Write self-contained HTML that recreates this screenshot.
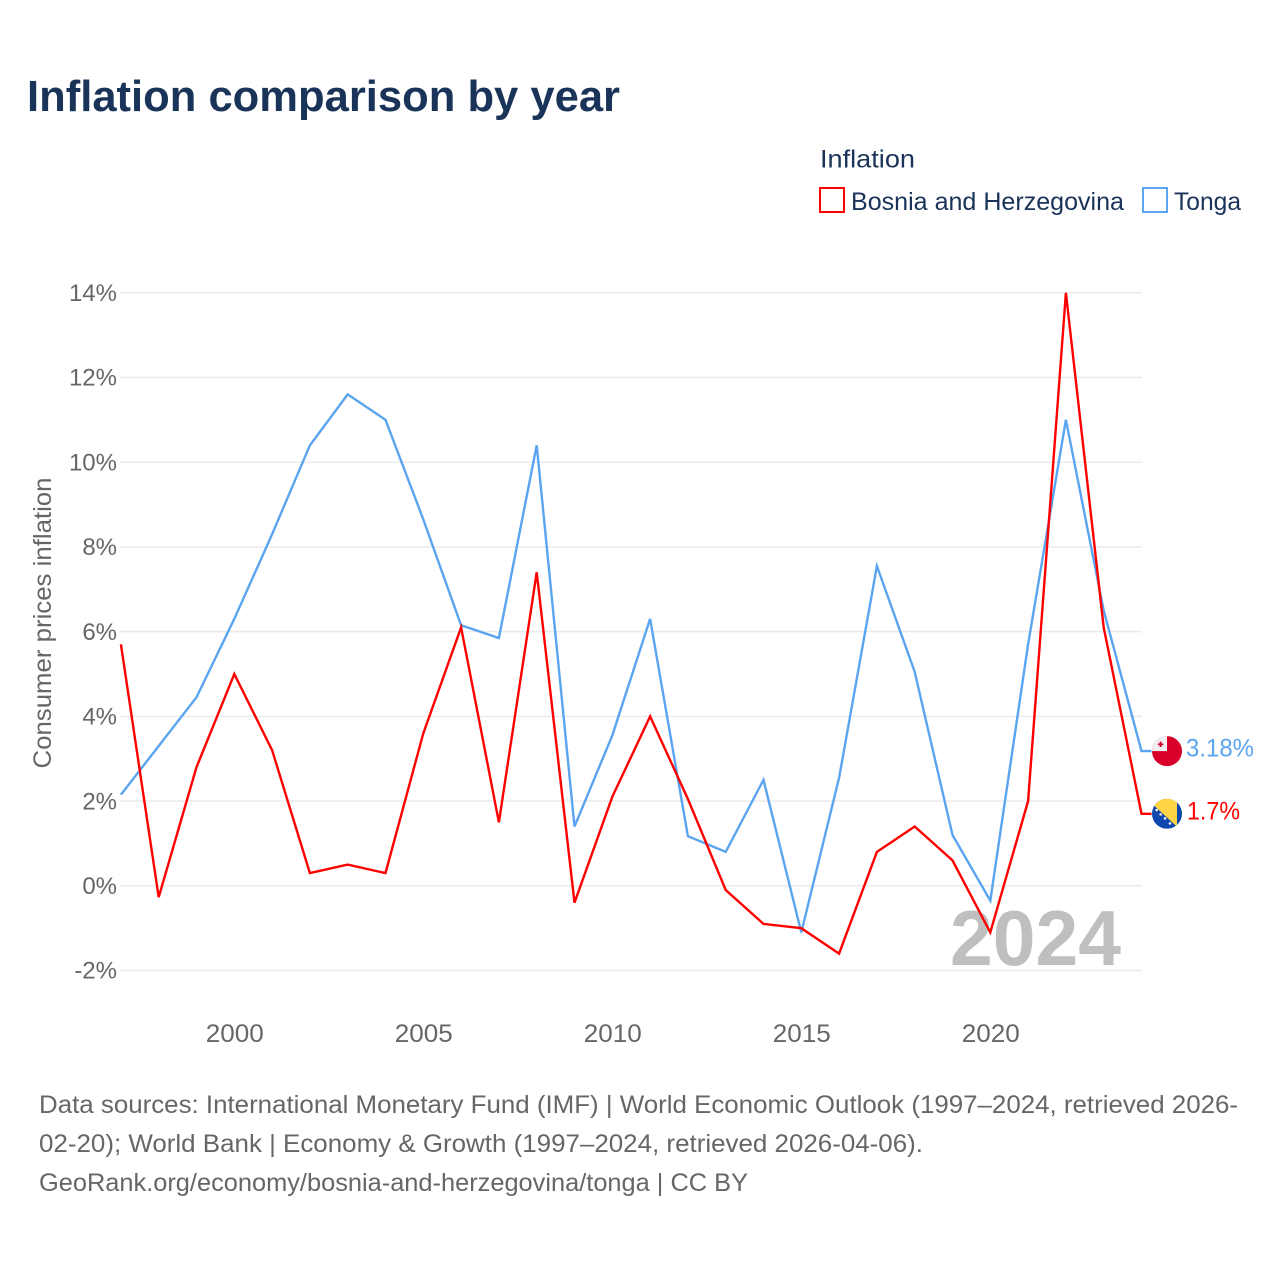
<!DOCTYPE html>
<html lang="en">
<head>
<meta charset="utf-8">
<title>Inflation comparison by year</title>
<style>
html,body{margin:0;padding:0;background:#fff;width:1280px;height:1280px;overflow:hidden}
svg{display:block}
text{font-family:"Liberation Sans",sans-serif}
</style>
</head>
<body>
<svg id="chart" xmlns="http://www.w3.org/2000/svg" width="1280" height="1280" viewBox="0 0 1280 1280">
  <rect x="0" y="0" width="1280" height="1280" fill="#fff"/>
  <text x="27" y="111" font-size="44" font-weight="700" fill="#1a3358" textLength="593" lengthAdjust="spacingAndGlyphs">Inflation comparison by year</text>

  <text x="820" y="167.5" font-size="25" fill="#1a3358" textLength="95" lengthAdjust="spacingAndGlyphs">Inflation</text>
  <g>
    <rect x="820" y="188" width="24" height="24" fill="none" stroke="#ff0000" stroke-width="2"/>
    <text x="851" y="210" font-size="25" fill="#1a3358" textLength="273" lengthAdjust="spacingAndGlyphs">Bosnia and Herzegovina</text>
  </g>
  <g>
    <rect x="1143" y="188" width="24" height="24" fill="none" stroke="#5ba4ef" stroke-width="2"/>
    <text x="1174" y="210" font-size="25" fill="#1a3358" textLength="67" lengthAdjust="spacingAndGlyphs">Tonga</text>
  </g>

  <g id="grid"></g>
  <g id="yticks"></g>
  <g id="xticks"></g>

  <text transform="translate(51,623) rotate(-90)" text-anchor="middle" font-size="25" fill="#666" textLength="291" lengthAdjust="spacingAndGlyphs">Consumer prices inflation</text>

  <text x="950" y="965" font-size="78" font-weight="700" fill="#bfbfbf" textLength="171" lengthAdjust="spacingAndGlyphs">2024</text>

  <g id="series"></g>

  <g id="flag-tonga">
    <clipPath id="clip-to"><circle cx="0" cy="0" r="15"/></clipPath>
    <g clip-path="url(#clip-to)">
      <rect x="-15" y="-15" width="30" height="30" fill="#d8002a"/>
      <rect x="-15" y="-15" width="15" height="15" fill="#f0f0f0"/>
      <rect x="-7.3" y="-9.5" width="1.8" height="5.4" fill="#d8002a"/>
      <rect x="-9.1" y="-7.7" width="5.4" height="1.8" fill="#d8002a"/>
    </g>
  </g>
  <g id="flag-bosnia">
    <clipPath id="clip-ba"><circle cx="0" cy="0" r="15"/></clipPath>
    <g clip-path="url(#clip-ba)">
      <rect x="-15" y="-15" width="30" height="30" fill="#0f47af"/>
      <polygon points="-15,-10 -15,-15 10,-15 10,13" fill="#ffd445"/>
      <g fill="#f4f4f4">
        <circle cx="-10.3" cy="-3.7" r="1.3"/><circle cx="-6.3" cy="0.6" r="1.3"/><circle cx="-2" cy="4.6" r="1.3"/>
        <circle cx="3" cy="9.6" r="1.3"/>
      </g>
    </g>
  </g>
  <text id="value-tonga" font-size="25" fill="#5ba4ef" textLength="68" lengthAdjust="spacingAndGlyphs"></text>
  <text id="value-bosnia" font-size="25" fill="#ff0000" textLength="53" lengthAdjust="spacingAndGlyphs"></text>

  <text font-size="25" fill="#666">
    <tspan x="39" y="1113" textLength="1199" lengthAdjust="spacingAndGlyphs">Data sources: International Monetary Fund (IMF) | World Economic Outlook (1997–2024, retrieved 2026-</tspan>
    <tspan x="39" y="1152" textLength="884" lengthAdjust="spacingAndGlyphs">02-20); World Bank | Economy &amp; Growth (1997–2024, retrieved 2026-04-06).</tspan>
    <tspan x="39" y="1191" textLength="709" lengthAdjust="spacingAndGlyphs">GeoRank.org/economy/bosnia-and-herzegovina/tonga | CC BY</tspan>
  </text>
</svg>
<script>
const years = [1997,1998,1999,2000,2001,2002,2003,2004,2005,2006,2007,2008,2009,2010,2011,2012,2013,2014,2015,2016,2017,2018,2019,2020,2021,2022,2023,2024];
const bosniaValues = [5.7,-0.27,2.8,5.0,3.2,0.3,0.5,0.3,3.6,6.1,1.5,7.4,-0.4,2.1,4.0,2.05,-0.1,-0.9,-1.0,-1.6,0.8,1.4,0.6,-1.1,2.0,14.0,6.1,1.7];
const tongaValues = [2.15,3.3,4.45,6.3,8.3,10.4,11.6,11.0,8.65,6.15,5.85,10.4,1.4,3.55,6.3,1.17,0.8,2.5,-1.1,2.55,7.55,5.05,1.2,-0.35,5.7,11.0,6.5,3.18];
const yTickValues = [-2,0,2,4,6,8,10,12,14];
const xTickValues = [2000,2005,2010,2015,2020];
const bosniaEndLabel = "1.7%";
const tongaEndLabel = "3.18%";

const NS = "http://www.w3.org/2000/svg";
function xScale(year){ return 120.9 + (year - 1997) * 37.8; }
function yScale(v){ return 885.8 - v * 42.36; }

function make(tag, attrs, parent){
  const el = document.createElementNS(NS, tag);
  for (const k in attrs) el.setAttribute(k, attrs[k]);
  parent.appendChild(el);
  return el;
}

const grid = document.getElementById('grid');
const yticks = document.getElementById('yticks');
const xticks = document.getElementById('xticks');
const series = document.getElementById('series');

yTickValues.forEach(function(v){
  const line = make('line', {x1:120, x2:1142, y1:yScale(v), y2:yScale(v), stroke:'#ebebeb', 'stroke-width':1.5}, grid);
  
  
  const t = make('text', {x:117, y:yScale(v)+8.2, 'text-anchor':'end', 'font-size':24, fill:'#666'}, yticks);
  
  
  t.textContent = v + '%';
});

xTickValues.forEach(function(y){
  const t = make('text', {x:xScale(y)+0.5, y:1042, 'text-anchor':'middle', 'font-size':25, fill:'#666', textLength:58, lengthAdjust:'spacingAndGlyphs'}, xticks);
  
  
  t.textContent = y;
});

function drawSeries(values, color, name){
  const pts = values.map(function(v,i){ return xScale(years[i]).toFixed(1) + ',' + yScale(v).toFixed(1); });
  const last = values[values.length-1];
  pts.push((xScale(years[years.length-1]) + 10).toFixed(1) + ',' + yScale(last).toFixed(1));
  const line = make('polyline', {points:pts.join(' '), fill:'none', stroke:color, 'stroke-width':2.4, 'stroke-linejoin':'miter'}, series);
  
  
}
drawSeries(tongaValues, '#5ba4ef', 'line-tonga');
drawSeries(bosniaValues, '#ff0000', 'line-bosnia');

const endX = xScale(years[years.length-1]);
const tongaY = yScale(tongaValues[tongaValues.length-1]);
const bosniaY = yScale(bosniaValues[bosniaValues.length-1]);
document.getElementById('flag-tonga').setAttribute('transform', 'translate(' + (endX+25.5) + ',' + tongaY + ')');
document.getElementById('flag-bosnia').setAttribute('transform', 'translate(' + (endX+25.5) + ',' + bosniaY + ')');
const vt = document.getElementById('value-tonga');
vt.setAttribute('x', endX + 44.5);
vt.setAttribute('y', tongaY + 5.5);
vt.textContent = tongaEndLabel;
const vb = document.getElementById('value-bosnia');
vb.setAttribute('x', endX + 45.5);
vb.setAttribute('y', bosniaY + 5.5);
vb.textContent = bosniaEndLabel;
</script>
</body>
</html>
